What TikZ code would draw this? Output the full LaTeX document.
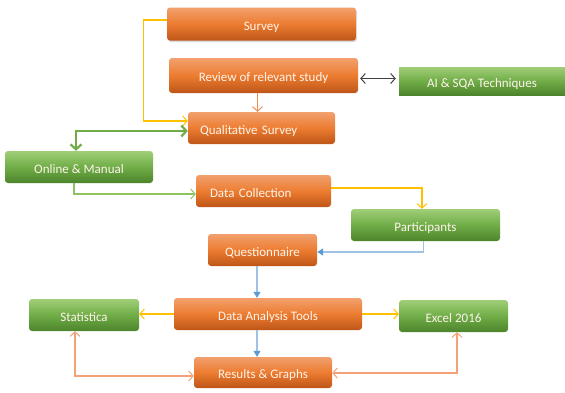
\documentclass[tikz,border=0pt]{standalone}
\usepackage{fontspec}
\setmainfont{Carlito}
\usetikzlibrary{arrows.meta,shadows,calc}
\definecolor{otop}{RGB}{242,160,110}
\definecolor{omid}{RGB}{236,124,48}
\definecolor{obot}{RGB}{190,86,24}
\definecolor{gtop}{RGB}{160,206,120}
\definecolor{gmid}{RGB}{112,173,71}
\definecolor{gbot}{RGB}{76,132,44}
\definecolor{ylw}{RGB}{255,192,0}
\definecolor{gln}{RGB}{112,173,71}
\definecolor{glnl}{RGB}{140,196,100}
\definecolor{bln}{RGB}{91,155,213}
\definecolor{blnl}{RGB}{157,195,230}
\definecolor{sal}{RGB}{244,160,120}
\definecolor{ora}{RGB}{240,140,80}
\definecolor{txt}{RGB}{255,244,236}
\tikzset{
  box/.style={rounded corners=3pt, text=txt, font=\fontsize{13}{14}\selectfont, inner sep=2pt, draw=none, text height=14pt, text depth=2pt},
  obox/.style={box, top color=otop, bottom color=obot, middle color=omid},
  gbox/.style={box, top color=gtop, bottom color=gbot, middle color=gmid},
  barb/.tip={Straight Barb[length=4.5pt,width=10pt,line width=1pt]},
  conn/.style={line width=1.1pt},
}
\begin{document}
\begin{tikzpicture}[x=1pt,y=-1pt]
\useasboundingbox (0,0) rectangle (565,392);
% nodes
\node[obox, drop shadow={shadow xshift=1pt,shadow yshift=-1.5pt,opacity=0.3}, minimum width=189pt, minimum height=33pt] (survey) at (261.5,24) {Survey};
\node[obox, minimum width=189pt, minimum height=35pt] (review) at (263.5,75.5) {Review of relevant study};
\node[gbox, rounded corners=0pt, minimum width=166pt, minimum height=28pt] (ai) at (482,81) {AI \& SQA Techniques};
\node[obox, minimum height=32pt, text width=123pt, inner xsep=12pt, align=left] (qual) at (261.5,128) {Qualitative Survey};
\node[gbox, minimum width=148pt, minimum height=32pt] (online) at (79,167) {Online \& Manual};
\node[obox, minimum height=32pt, text width=107pt, inner xsep=14pt, align=left] (dc) at (263.5,191) {Data Collection};
\node[gbox, minimum width=149pt, minimum height=32pt] (part) at (425.5,225) {Participants};
\node[obox, minimum width=109pt, minimum height=32pt] (quest) at (262.5,250) {Questionnaire};
\node[gbox, minimum width=110pt, minimum height=32pt] (stat) at (84,315) {Statistica};
\node[obox, minimum width=188pt, minimum height=32pt] (dat) at (268,314) {Data Analysis Tools};
\node[gbox, minimum width=109pt, minimum height=32pt] (excel) at (453.5,316) {Excel 2016};
\node[obox, minimum width=138pt, minimum height=31pt] (res) at (263,372.5) {Results \& Graphs};
% connectors
\draw[conn, ylw, -barb] ([yshift=4pt]survey.west) -- ++(-23,0) |- ([yshift=7pt]qual.west);
\draw[conn, ora, -barb] ([xshift=-6pt]review.south) -- ([xshift=-6pt]review.south |- qual.north);
\draw[conn, black!75, barb-barb, shorten <=2pt, shorten >=3pt] ([yshift=-3pt]review.east) -- ([yshift=-3pt]review.east -| ai.west);
\draw[line width=2.4pt, gln, {Straight Barb[length=5pt,width=11pt,line width=2.2pt]}-{Straight Barb[length=5pt,width=11pt,line width=2.2pt]}] ([xshift=-3pt]online.north) |- ([yshift=-3pt]qual.west);
\draw[conn, glnl, -barb] ([xshift=-5pt]online.south) |- ([yshift=-3pt]dc.west);
\draw[conn, ylw, -barb] ([yshift=3pt]dc.east) -| ([xshift=-3.5pt]part.north);
\draw[conn, blnl, -{Triangle[length=6pt,width=7pt,color=bln]}] ([xshift=-2pt]part.south) |- ([yshift=-2pt]quest.east);
\draw[conn, blnl, -{Triangle[length=6pt,width=7pt,color=bln]}] ([xshift=-5.5pt]quest.south) -- ([xshift=-5.5pt]quest.south |- dat.north);
\draw[conn, ylw, -barb] (dat.west) -- (dat.west -| stat.east);
\draw[conn, ylw, -barb] (dat.east) -- (dat.east -| excel.west);
\draw[conn, blnl, -{Triangle[length=6pt,width=7pt,color=bln]}] ([xshift=-11pt]dat.south) -- ([xshift=-11pt]dat.south |- res.north);
\draw[conn, sal, barb-barb] ([xshift=-9pt]stat.south) |- ([yshift=-3.5pt]res.west);
\draw[conn, sal, barb-barb] ([yshift=-0.5pt]res.east) -| ([xshift=3.5pt]excel.south);
\end{tikzpicture}
\end{document}
